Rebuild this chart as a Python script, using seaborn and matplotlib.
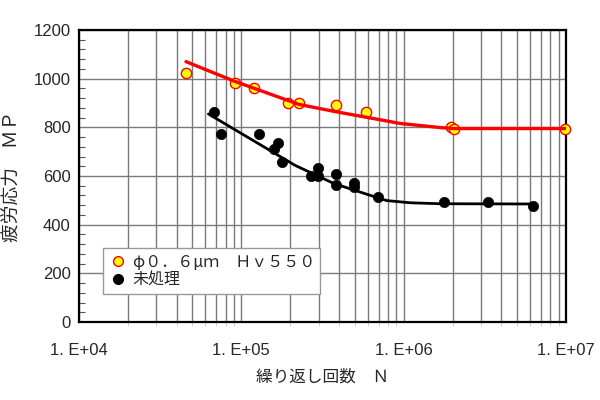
import matplotlib
matplotlib.use("Agg")
import matplotlib.pyplot as plt
import seaborn as sns
import pandas as pd
import numpy as np
from matplotlib.ticker import LogLocator, MultipleLocator, NullFormatter
from matplotlib.lines import Line2D

# ---- data ----
treated_N = [45600, 91400, 119700, 194000, 227000, 383000, 586000, 1960000, 2050000, 9850000]
treated_S = [1022, 983, 960, 901, 901, 892, 862, 803, 793, 793]

untreated_N = [68200, 75000, 129000, 169000, 159000, 179000, 298000, 268000, 298000,
               383000, 383000, 491000, 491000, 695000, 1780000, 3330000, 6300000]
untreated_S = [862, 771, 773, 734, 710, 659, 634, 602, 598,
               608, 563, 570, 556, 515, 494, 494, 478]

treated_fit_N = [45600, 90200, 227000, 383000, 594000, 951000, 1675000, 2050000, 10000000]
treated_fit_S = [1070, 990, 894, 864, 841, 816, 799, 795, 795]

untreated_fit_N = [62700, 214000, 369000, 593000, 787000, 1094000, 1675000, 6270000]
untreated_fit_S = [855, 644, 570, 525, 499, 490, 486, 485]

x_ticks = [1e4, 1e5, 1e6, 1e7]
x_tick_labels = ["1. E+04", "1. E+05", "1. E+06", "1. E+07"]
y_ticks = [0, 200, 400, 600, 800, 1000, 1200]

label_treated = "φ０．６μｍ　Ｈｖ５５０"
label_untreated = "未処理"
x_label = "繰り返し回数　Ｎ"
y_label = "疲労応力　ＭＰ"

# ---- styling ----
sns.set_style("white")
plt.rcParams['font.family'] = ['Liberation Sans', 'Noto Sans CJK JP', 'DejaVu Sans']

df_t = pd.DataFrame({"N": treated_N, "S": treated_S})
df_u = pd.DataFrame({"N": untreated_N, "S": untreated_S})
df_tf = pd.DataFrame({"N": treated_fit_N, "S": treated_fit_S})
df_uf = pd.DataFrame({"N": untreated_fit_N, "S": untreated_fit_S})

fig = plt.figure(figsize=(6, 4), dpi=100)
ax = fig.add_axes([79/600, 1 - 322/400, (566-79)/600, (322-30)/400])

ax.set_xscale("log")
ax.set_xlim(1e4, 1e7)
ax.set_ylim(0, 1200)

# grid
ax.xaxis.set_major_locator(LogLocator(base=10, numticks=10))
ax.xaxis.set_minor_locator(LogLocator(base=10, subs=np.arange(2, 10), numticks=20))
ax.xaxis.set_minor_formatter(NullFormatter())
ax.grid(True, which="major", axis="both", color="#7a7a7a", linewidth=1.0)
ax.grid(True, which="minor", axis="x", color="#7a7a7a", linewidth=1.0)
ax.set_axisbelow(True)

sns.scatterplot(data=df_t, x="N", y="S", ax=ax, marker="o", s=55,
                facecolor="#FFFF00", edgecolor="#FF0000", linewidth=1.0,
                zorder=3, clip_on=False, legend=False)
sns.scatterplot(data=df_u, x="N", y="S", ax=ax, marker="o", s=55,
                color="black", edgecolor="black", linewidth=0.5,
                zorder=3, clip_on=False, legend=False)
sns.lineplot(data=df_tf, x="N", y="S", ax=ax, color="#FF0000", linewidth=2.4,
             sort=False, estimator=None, zorder=4)
sns.lineplot(data=df_uf, x="N", y="S", ax=ax, color="black", linewidth=2.0,
             sort=False, estimator=None, zorder=4)

ax.set_xticks(x_ticks)
ax.set_xticklabels(x_tick_labels, fontsize=12, family=['Liberation Sans'])
ax.set_yticks(y_ticks)
ax.set_yticklabels([str(v) for v in y_ticks], fontsize=12, family=['Liberation Sans'])
ax.yaxis.set_minor_locator(MultipleLocator(40))
ax.tick_params(axis="y", which="major", direction="in", length=0, pad=6)
ax.tick_params(axis="y", which="minor", direction="in", length=4, width=0.8, color="#555555", left=True)
ax.tick_params(axis="x", which="major", direction="out", length=3, pad=12, color="#999999")
ax.tick_params(axis="x", which="minor", direction="out", length=3, color="#cccccc", bottom=True)

for sp in ax.spines.values():
    sp.set_color("black")
    sp.set_linewidth(1.6)
    sp.set_visible(True)

ax.set_xlabel(x_label, fontsize=12, family=['Noto Sans CJK JP'], labelpad=8)
ax.set_ylabel(y_label, fontsize=13.5, family=['Noto Sans CJK JP'], labelpad=8)

handles = [
    Line2D([], [], linestyle="none", marker="o", markersize=7,
           markerfacecolor="#FFFF00", markeredgecolor="#FF0000", markeredgewidth=1.0),
    Line2D([], [], linestyle="none", marker="o", markersize=7,
           markerfacecolor="black", markeredgecolor="black"),
]
leg = ax.legend(handles, [label_treated, label_untreated],
                loc="lower left", bbox_to_anchor=((103-79)/487, (322-294)/292),
                prop={"family": ["Noto Sans CJK JP"], "size": 11.5},
                frameon=True, fancybox=False, framealpha=1, edgecolor="#999999",
                handletextpad=0.3, borderpad=0.35, labelspacing=0.05,
                handlelength=1.2, borderaxespad=0)
leg.get_frame().set_linewidth(1.0)
leg.set_zorder(5)

fig.savefig("out.png", dpi=100)
